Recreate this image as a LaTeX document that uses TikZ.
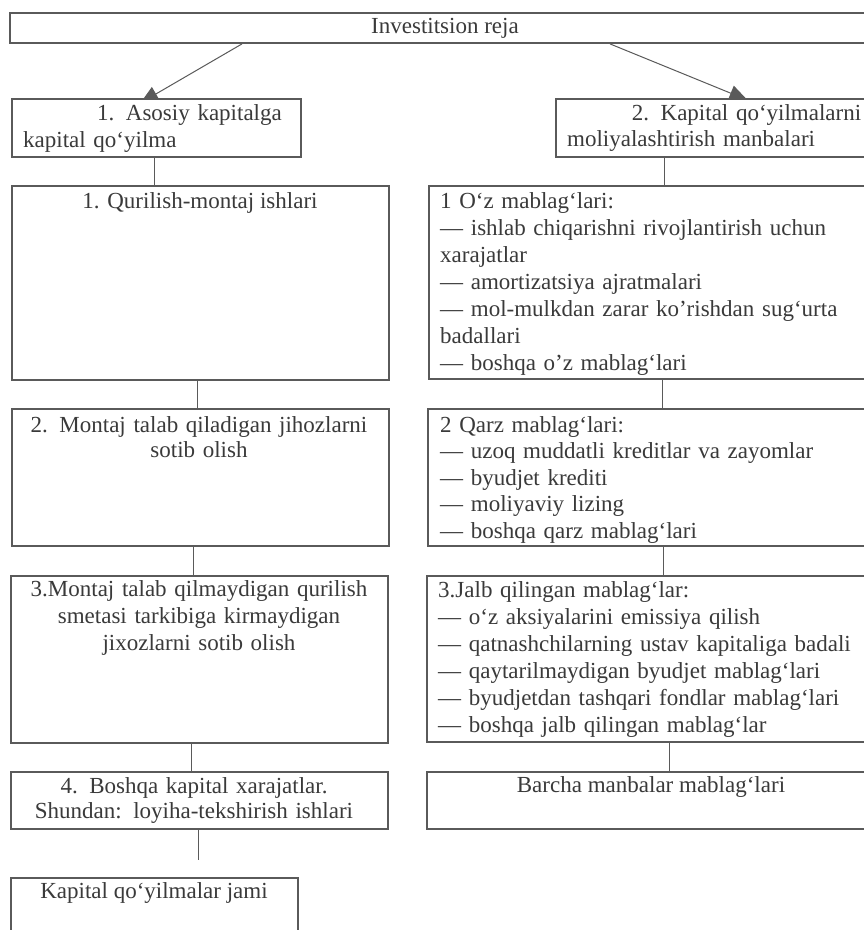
\documentclass[tikz,border=0pt]{standalone}
\usepackage{fontspec}
\setmainfont{Liberation Serif}
\usetikzlibrary{arrows.meta,backgrounds,calc}
\definecolor{ink}{HTML}{3A3A3A}
\definecolor{rulec}{HTML}{5A5A5A}
\tikzset{
  box/.style={draw=rulec, line width=1.8pt, fill=white, inner sep=0pt, anchor=north west},
  conn/.style={draw=rulec, line width=1pt},
  arr/.style={conn, -{Triangle[length=18pt,width=16pt]}},
  txt/.style={inner sep=0pt, text=ink, font={\fontsize{23}{27}\selectfont}},
  blk/.style={txt, anchor=north west, text width=460pt, align=left},
  cblk/.style={txt, anchor=north, text width=370pt, align=center}
}
\begin{document}
\begin{tikzpicture}[x=1pt,y=-1pt]
\useasboundingbox (0,0) rectangle (863,930);
\begin{pgfonlayer}{background}
\fill[white] (0,0) rectangle (863,930);
\end{pgfonlayer}

% boxes
\node[box, txt, draw=rulec, fill=white, anchor=center, minimum width=870pt, minimum height=30pt] (T) at (445,28) {Investitsion reja};
\node[box, minimum width=289pt, minimum height=58pt] (A1) at (11,98) {};
\node[box, minimum width=325pt, minimum height=58pt] (B1) at (555,98) {};
\node[box, minimum width=377pt, minimum height=194pt] (L1) at (11,185) {};
\node[box, minimum width=377pt, minimum height=137pt] (L2) at (11,408) {};
\node[box, minimum width=377pt, minimum height=167pt] (L3) at (10,575) {};
\node[box, minimum width=377pt, minimum height=57pt] (L4) at (10,771) {};
\node[box, minimum width=287pt, minimum height=90pt] (L5) at (10,877) {};
\node[box, minimum width=448pt, minimum height=193pt] (R1) at (428,185) {};
\node[box, minimum width=449pt, minimum height=137pt] (R2) at (427,408) {};
\node[box, minimum width=450pt, minimum height=166pt] (R3) at (426,575) {};
\node[box, minimum width=450pt, minimum height=57pt] (R4) at (426,771) {};

% texts
\node[blk, text width=280pt] (tA1) at (23,101.1) {\strut\hspace*{74pt}\makebox[192pt][s]{1. Asosiy kapitalga}\\kapital qo‘yilma};
\node[blk, text width=320pt, font={\fontsize{23}{26}\selectfont}] (tB1) at (567,102.5) {\strut\makebox[294pt][r]{2. Kapital qo‘yilmalarni}\\moliyalashtirish manbalari};

\node[txt, anchor=base] (tL1) at (200,208) {1. Qurilish-montaj ishlari};
\node[cblk, font={\fontsize{23}{25}\selectfont}] (tL2) at (199,414.5) {\strut 2. Montaj talab qiladigan jihozlarni\\sotib olish};
\node[cblk] (tL3) at (199,577.1) {\strut 3.Montaj talab qilmaydigan qurilish\\smetasi tarkibiga kirmaydigan\\jixozlarni sotib olish};
\node[cblk, font={\fontsize{23}{25}\selectfont}] (tL4) at (194,775.5) {\strut 4. Boshqa kapital xarajatlar.\\Shundan: loyiha-tekshirish ishlari};
\node[txt, anchor=base] (tL5) at (154,898) {Kapital qo‘yilmalar jami};

\node[blk] (tR1) at (440,189.1) {\strut 1 O‘z mablag‘lari:\\\makebox[421pt][s]{— ishlab chiqarishni rivojlantirish uchun}\\xarajatlar\\— amortizatsiya ajratmalari\\— mol-mulkdan zarar ko’rishdan sug‘urta\\badallari\\— boshqa o’z mablag‘lari};
\node[blk, font={\fontsize{23}{26.5}\selectfont}] (tR2) at (440,413.5) {\strut 2 Qarz mablag‘lari:\\— uzoq muddatli kreditlar va zayomlar\\— byudjet krediti\\— moliyaviy lizing\\— boshqa qarz mablag‘lari};
\node[blk] (tR3) at (438,578.1) {\strut 3.Jalb qilingan mablag‘lar:\\— o‘z aksiyalarini emissiya qilish\\— qatnashchilarning ustav kapitaliga badali\\— qaytarilmaydigan byudjet mablag‘lari\\— byudjetdan tashqari fondlar mablag‘lari\\— boshqa jalb qilingan mablag‘lar};
\node[txt, anchor=base] (tR4) at (651,792) {Barcha manbalar mablag‘lari};

\coordinate (gap) at ($(L4.south |- L5.north)+(-0.5,-17)$);

% connectors (behind the boxes)
\begin{pgfonlayer}{background}
\draw[arr] ([xshift=-203pt]T.south) -- ([xshift=-16pt,yshift=-5pt]A1.north);
\draw[arr] ([xshift=165pt]T.south) -- ([xshift=29pt,yshift=-2pt]B1.north);
\draw[conn] ([xshift=-1.5pt]A1.south) -- ([xshift=-1.5pt]A1.south |- L1.north);
\draw[conn] ([xshift=-53.5pt]B1.south) -- ([xshift=-53.5pt]B1.south |- R1.north);
\draw[conn] ([xshift=-2.5pt]L1.south) -- ([xshift=-2.5pt]L1.south |- L2.north);
\draw[conn] ([xshift=-6.5pt]L2.south) -- ([xshift=-6.5pt]L2.south |- L3.north);
\draw[conn] ([xshift=-7.5pt]L3.south) -- ([xshift=-7.5pt]L3.south |- L4.north);
\draw[conn] ([xshift=-0.5pt]L4.south) -- (gap);
\draw[conn] ([xshift=10pt]R1.south) -- ([xshift=10pt]R1.south |- R2.north);
\draw[conn] ([xshift=11.5pt]R2.south) -- ([xshift=11.5pt]R2.south |- R3.north);
\draw[conn] ([xshift=18pt]R3.south) -- ([xshift=18pt]R3.south |- R4.north);
\end{pgfonlayer}
\end{tikzpicture}
\end{document}
